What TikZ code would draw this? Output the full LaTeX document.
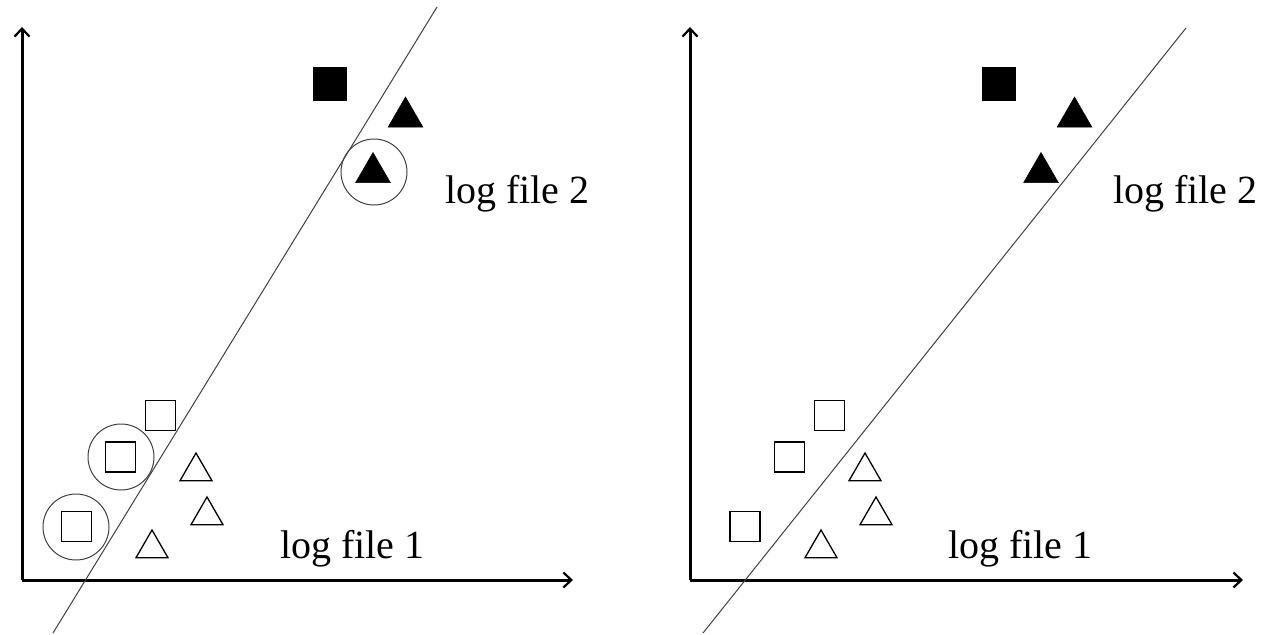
\documentclass[tikz,border=0pt]{standalone}
\usepackage{fontspec}
\setmainfont{Liberation Serif}
\usetikzlibrary{arrows.meta,shapes.geometric}
\begin{document}
\begin{tikzpicture}[x=1pt,y=-1pt,
  axis/.style={line width=3pt,-{Straight Barb[length=8pt,width=15pt,line width=2.2pt]}},
  sep/.style={line width=1pt,draw=black!75},
  osq/.style={draw,line width=1.5pt,minimum size=30pt,inner sep=0pt,outer sep=0pt},
  fsq/.style={draw,fill=black,line width=0.5pt,minimum size=33pt,inner sep=0pt,outer sep=0pt},
  otri/.style={regular polygon,regular polygon sides=3,draw,line width=1.3pt,minimum size=37pt,inner sep=0pt,outer sep=0pt},
  ftri/.style={regular polygon,regular polygon sides=3,draw,fill=black,line width=0.5pt,minimum size=40pt,inner sep=0pt,outer sep=0pt},
  ring/.style={circle,draw=black!75,line width=1pt,minimum size=66pt,inner sep=0pt},
  lab/.style={font=\fontsize{40}{47}\selectfont,anchor=base west,inner sep=0pt}]
\useasboundingbox (0,0) rectangle (1262,635);
% ---------- left panel ----------
\coordinate (lo) at (22,580);
\coordinate (ly) at (22,27);
\coordinate (lx) at (573,580);
\draw[axis] (lo) -- (ly);
\draw[axis] (lo) -- (lx);
\coordinate (la) at (53,633);
\coordinate (lb) at (437,7);
\draw[sep] (la) -- (lb);
\node[osq] (lsA) at (160.5,415.5) {};
\node[osq] (lsB) at (120.5,457) {};
\node[osq] (lsC) at (76.5,526.5) {};
\node[ring] (lcB) at (121,457) {};
\node[ring] (lcC) at (76,527) {};
\node[otri] (ltD) at (196,471.5) {};
\node[otri] (ltE) at (207,515.5) {};
\node[otri] (ltF) at (152,548.5) {};
\node[fsq] (lfs) at (330,83.5) {};
\node[ftri] (lfG) at (405.5,117) {};
\node[ftri] (lfH) at (373,172.5) {};
\node[ring] (lcH) at (374,172) {};
\node[lab] (l2) at (445,203) {log file 2};
\node[lab] (l1) at (280,558) {log file 1};
% ---------- right panel ----------
\coordinate (ro) at (690,580);
\coordinate (ry) at (690,27);
\coordinate (rx) at (1243,580);
\draw[axis] (ro) -- (ry);
\draw[axis] (ro) -- (rx);
\coordinate (ra) at (703,633);
\coordinate (rb) at (1186,28);
\draw[sep] (ra) -- (rb);
\node[osq] (rsA) at (829.5,415.5) {};
\node[osq] (rsB) at (789.5,457) {};
\node[osq] (rsC) at (745,526.5) {};
\node[otri] (rtD) at (865,471.5) {};
\node[otri] (rtE) at (876,515.5) {};
\node[otri] (rtF) at (821,548.5) {};
\node[fsq] (rfs) at (999,83.5) {};
\node[ftri] (rfG) at (1074.5,117) {};
\node[ftri] (rfH) at (1041,172.5) {};
\node[lab] (r2) at (1113,203) {log file 2};
\node[lab] (r1) at (948,558) {log file 1};
\end{tikzpicture}
\end{document}
